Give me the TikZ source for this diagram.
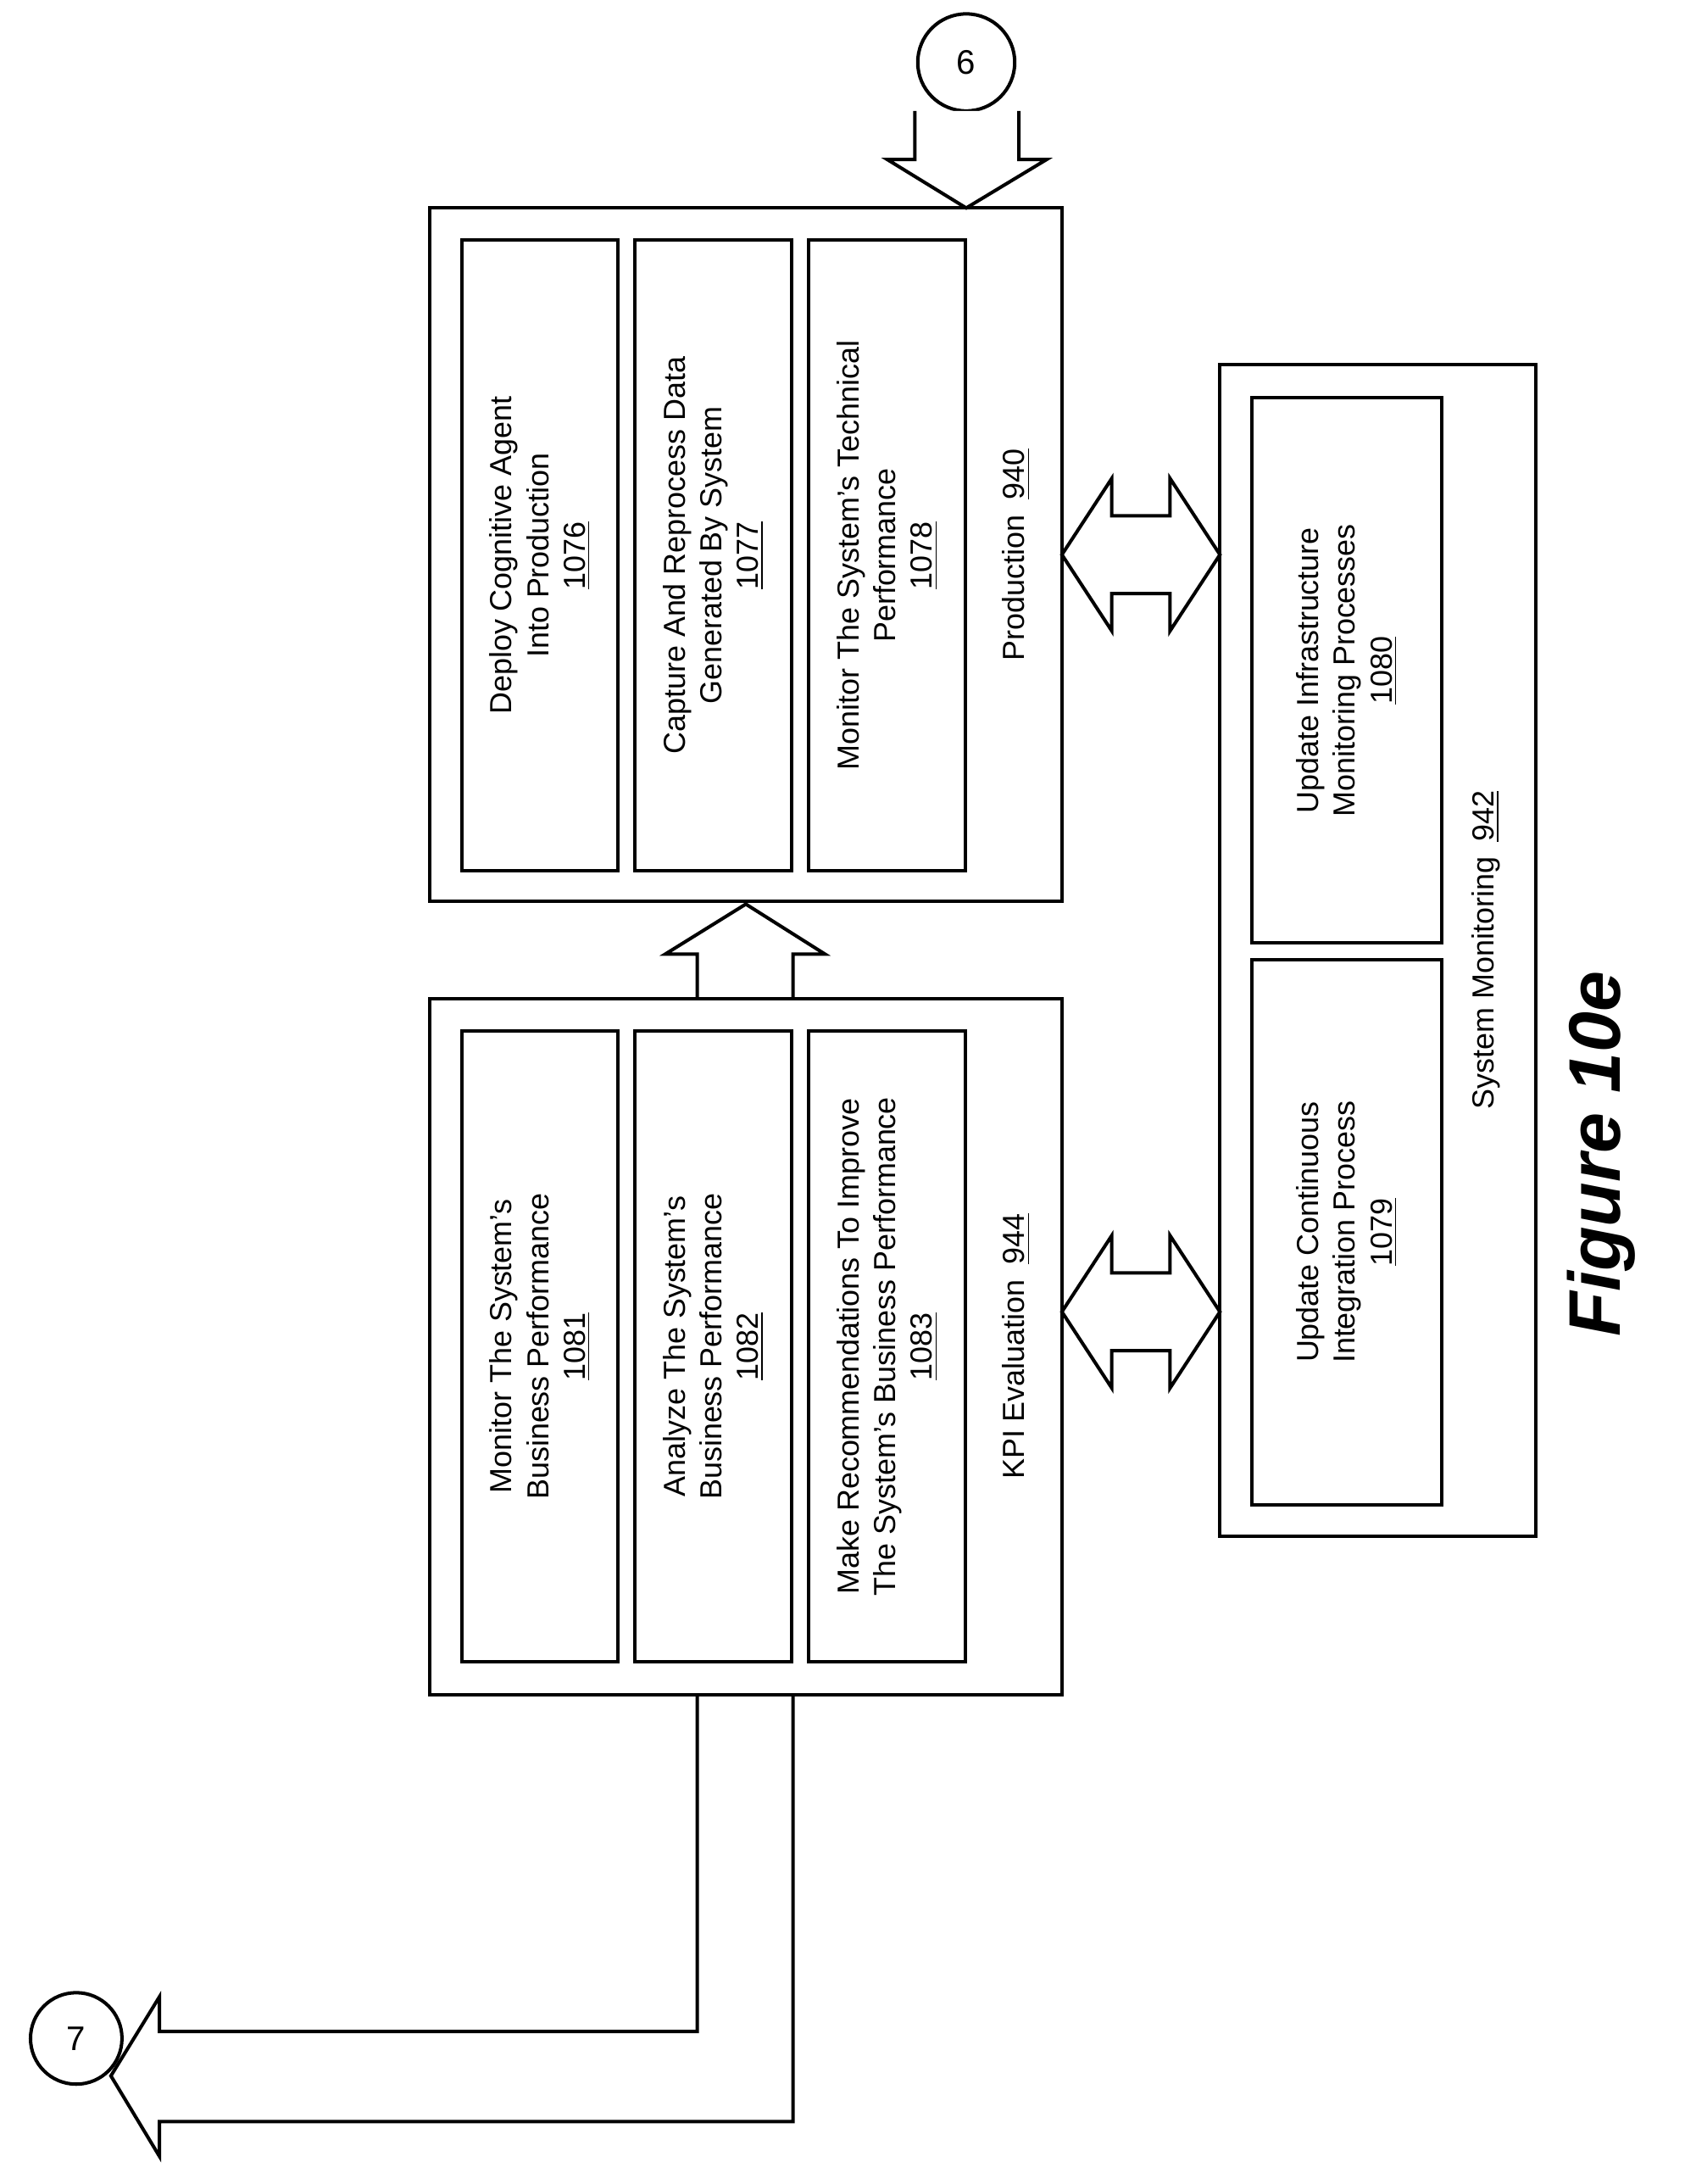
\documentclass[tikz,border=0pt]{standalone}
\usepackage{fontspec}
\setmainfont{Liberation Sans}
\usetikzlibrary{positioning}

\begin{document}
\begin{tikzpicture}[x=0.02cm, y=-0.02cm, line width=1.4pt,
    outer/.style={draw, rotate=90, inner sep=0pt},
    inner/.style={draw, rotate=90, minimum width=9.1cm, minimum height=2.26cm, align=center, font=\fontsize{12.5}{15}\selectfont, inner sep=0pt},
    wide/.style={inner, minimum width=7.86cm, minimum height=2.74cm},
    lbl/.style={rotate=90, font=\fontsize{12.5}{15}\selectfont}]
    \useasboundingbox (0,0) rectangle (1215,1575);
    % production
    \node[outer, minimum width=10cm, minimum height=9.12cm] (prod) at (538,400) {};
    \node[inner] (deploy) at (389.5,400.5) {Deploy Cognitive Agent\\Into Production\\\underline{1076}};
    \node[inner] (capture) at (514.5,400.5) {Capture And Reprocess Data\\Generated By System\\\underline{1077}};
    \node[inner] (techmon) at (640,400.5) {Monitor The System's Technical\\Performance\\\underline{1078}};
    \node[lbl] (prodlbl) at (733,400) {Production\enspace\underline{940}};
    % kpi
    \node[outer, minimum width=10.04cm, minimum height=9.12cm] (kpi) at (538,971) {};
    \node[inner] (busmon) at (389.5,971) {Monitor The System's\\Business Performance\\\underline{1081}};
    \node[inner] (analyze) at (514.5,971) {Analyze The System's\\Business Performance\\\underline{1082}};
    \node[inner] (recommend) at (640,971) {Make Recommendations To Improve\\The System's Business Performance\\\underline{1083}};
    \node[lbl] (kpilbl) at (733,971) {KPI Evaluation\enspace\underline{944}};
    % system monitoring
    \node[outer, minimum width=16.9cm, minimum height=4.56cm] (sysmon) at (994,685.5) {};
    \node[wide] (infra) at (971.5,483.5) {Update Infrastructure\\Monitoring Processes\\\underline{1080}};
    \node[wide] (contint) at (971.5,888.5) {Update Continuous\\Integration Process\\\underline{1079}};
    \node[lbl] (sysmonlbl) at (1072,685) {System Monitoring\enspace\underline{942}};
    % hollow arrows
    \draw (503,720) -- (503,688) -- (480,688) -- (538,652) -- (595,688) -- (572,688) -- (572,720);
    \foreach \c in {400,946} {
      \draw (766,\c) -- (802,\c-55) -- (802,\c-28) -- (844,\c-28) -- (844,\c-55) -- (880,\c)
        -- (844,\c+55) -- (844,\c+28) -- (802,\c+28) -- (802,\c+55) -- cycle;
    }
    % connector 6
    \node[draw, circle, minimum size=1.4cm, font=\fontsize{14}{16}\selectfont] (six) at (697,45) {6};
    \draw[fill=white] (660,80) -- (660,115) -- (640,115) -- (697,150) -- (755,115) -- (735,115) -- (735,80);
    % connector 7
    \draw (503,1222) -- (503,1465) -- (115,1465) -- (115,1440) -- (80,1497) -- (115,1555) -- (115,1530) -- (572,1530) -- (572,1222);
    \node[draw, circle, minimum size=1.32cm, fill=white, font=\fontsize{14}{16}\selectfont] (seven) at (55,1470) {7};
    \node[rotate=90, font=\fontsize{30}{34}\bfseries\itshape\selectfont] (fig) at (1155,832) {Figure 10e};
\end{tikzpicture}
\end{document}
